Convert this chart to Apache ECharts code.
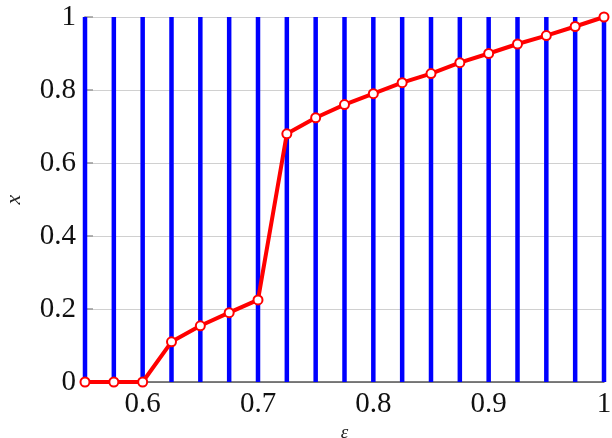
<!DOCTYPE html>
<html>
<head>
<meta charset="utf-8">
<script src="https://cdn.jsdelivr.net/npm/echarts@6/dist/echarts.min.js"></script>
<style>
  html, body { margin: 0; padding: 0; background: #fff; }
  #chart { width: 612px; height: 438px; }
</style>
</head>
<body>
<div id="chart"></div>
<script>
// epsilon sample points
const epsilon = [0.55, 0.575, 0.6, 0.625, 0.65, 0.675, 0.7, 0.725, 0.75, 0.775,
                 0.8, 0.825, 0.85, 0.875, 0.9, 0.925, 0.95, 0.975, 1.0];
// solution x at each epsilon
const xValues = [0, 0, 0, 0.11, 0.154, 0.19, 0.225, 0.68, 0.724, 0.76,
                 0.79, 0.82, 0.845, 0.875, 0.9, 0.926, 0.949, 0.974, 1.0];
// vertical bar height at every epsilon
const barHeight = epsilon.map(() => 1);
// x-axis labels shown
const xTickLabels = [0.6, 0.7, 0.8, 0.9, 1];

const serif = '"Liberation Serif", "DejaVu Serif", serif';

const chart = echarts.init(document.getElementById('chart'), null, { renderer: 'canvas' });
chart.setOption({
  animation: false,
  grid: { left: 85, right: 8, top: 17, bottom: 56, containLabel: false, outerBoundsMode: 'none' },
  xAxis: {
    type: 'value',
    min: 0.55,
    max: 1,
    interval: 0.05,
    name: 'ε',
    nameLocation: 'middle',
    nameGap: 38,
    nameTextStyle: { fontFamily: serif, fontStyle: 'italic', fontSize: 19, color: '#222' },
    axisLine: { show: true, lineStyle: { color: '#555', width: 1.5 } },
    axisTick: { show: false },
    axisLabel: {
      fontFamily: serif, fontSize: 29, color: '#111', margin: 8,
      formatter: v => {
        const r = Math.round(v * 100) / 100;
        return xTickLabels.some(t => Math.abs(t - r) < 1e-6) ? String(r) : '';
      }
    },
    splitLine: { show: true, lineStyle: { color: '#d0d0d0', width: 1.2 } }
  },
  yAxis: {
    type: 'value',
    min: 0,
    max: 1,
    interval: 0.2,
    name: 'x',
    nameLocation: 'middle',
    nameGap: 60,
    nameRotate: 90,
    nameTextStyle: { fontFamily: serif, fontStyle: 'italic', fontSize: 22, color: '#222' },
    axisLine: { show: true, lineStyle: { color: '#555', width: 1.5 } },
    axisTick: { show: true, inside: true, length: 8, lineStyle: { color: '#999', width: 1.5 } },
    axisLabel: { fontFamily: serif, fontSize: 29, color: '#111', margin: 9 },
    splitLine: { show: true, lineStyle: { color: '#d0d0d0', width: 1.2 } }
  },
  series: [
    {
      type: 'bar',
      data: epsilon.map((e, i) => [e, barHeight[i]]),
      barWidth: 4.5,
      itemStyle: { color: '#0000ff' },
      clip: true,
      z: 2
    },
    {
      type: 'line',
      data: epsilon.map((e, i) => [e, xValues[i]]),
      symbol: 'emptyCircle',
      symbolSize: 9,
      lineStyle: { color: '#ff0000', width: 4 },
      itemStyle: { color: '#ff0000', borderColor: '#ff0000', borderWidth: 4.5 },
      clip: false,
      z: 3
    }
  ]
});
</script>
</body>
</html>
